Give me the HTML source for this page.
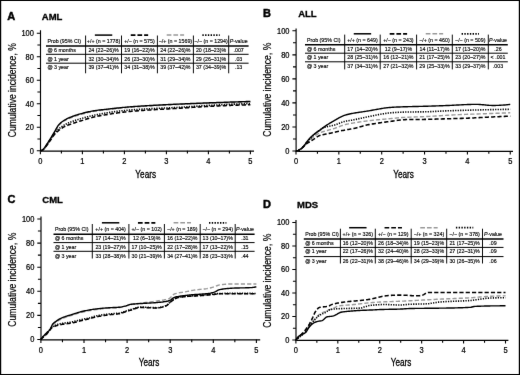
<!DOCTYPE html>
<html><head><meta charset="utf-8"><style>
html,body{margin:0;padding:0;background:#fff;}
svg{display:block;}
text{font-family:"Liberation Sans", sans-serif;}
.tb{font-size:5.3px;fill:#000;stroke:#000;stroke-width:0.14px;}
.tk{font-size:7.8px;fill:#000;stroke:#000;stroke-width:0.22px;}
.yl{font-size:10.3px;fill:#000;stroke:#000;stroke-width:0.2px;}
.yr{font-size:10.4px;fill:#000;stroke:#000;stroke-width:0.3px;}
</style></head><body>
<svg width="520" height="375" viewBox="0 0 520 375" fill="#111">
<defs><filter id="bl" x="0" y="0" width="1" height="1" filterUnits="objectBoundingBox" color-interpolation-filters="sRGB"><feConvolveMatrix order="3" kernelMatrix="0.00276 0.04704 0.00276 0.04704 0.80077 0.04704 0.00276 0.04704 0.00276" edgeMode="duplicate" preserveAlpha="true"/></filter></defs>
<g filter="url(#bl)">
<rect x="0" y="0" width="520" height="375" fill="#fff"/>
<text x="7.2" y="19.9" font-size="11" font-weight="bold" fill="#000" stroke="#000" stroke-width="0.45">A</text>
<text x="41.8" y="20.1" font-size="9.5" font-weight="bold" fill="#000" stroke="#000" stroke-width="0.3">AML</text>
<path d="M40.5 30.2 V151.1 H254" fill="none" stroke="#000" stroke-width="1.15"/>
<path d="M36.8 150.8 h3.6 M37.4 139.05 h3 M36.8 127.3 h3.6 M37.4 115.55 h3 M36.8 103.8 h3.6 M37.4 92.05 h3 M36.8 80.3 h3.6 M37.4 68.55 h3 M36.8 56.8 h3.6 M37.4 45.05 h3 M36.8 33.3 h3.6 M40.4 150.8 v3.4 M61.4 150.8 v2.8 M82.4 150.8 v3.4 M103.4 150.8 v2.8 M124.4 150.8 v3.4 M145.4 150.8 v2.8 M166.4 150.8 v3.4 M187.4 150.8 v2.8 M208.4 150.8 v3.4 M229.4 150.8 v2.8 M250.4 150.8 v3.4" stroke="#000" stroke-width="1.1"/>
<text transform="translate(33.9 153.7) scale(0.96 1.13)" class="tk" text-anchor="end">0</text>
<text transform="translate(33.9 130.2) scale(0.96 1.13)" class="tk" text-anchor="end">20</text>
<text transform="translate(33.9 106.7) scale(0.96 1.13)" class="tk" text-anchor="end">40</text>
<text transform="translate(33.9 83.2) scale(0.96 1.13)" class="tk" text-anchor="end">60</text>
<text transform="translate(33.9 59.7) scale(0.96 1.13)" class="tk" text-anchor="end">80</text>
<text transform="translate(33.9 36.2) scale(0.96 1.13)" class="tk" text-anchor="end">100</text>
<text transform="translate(40.4 164.1) scale(0.96 1.13)" class="tk" text-anchor="middle">0</text>
<text transform="translate(82.4 164.1) scale(0.96 1.13)" class="tk" text-anchor="middle">1</text>
<text transform="translate(124.4 164.1) scale(0.96 1.13)" class="tk" text-anchor="middle">2</text>
<text transform="translate(166.4 164.1) scale(0.96 1.13)" class="tk" text-anchor="middle">3</text>
<text transform="translate(208.4 164.1) scale(0.96 1.13)" class="tk" text-anchor="middle">4</text>
<text transform="translate(250.4 164.1) scale(0.96 1.13)" class="tk" text-anchor="middle">5</text>
<text transform="translate(15.9 90.2) rotate(-90) scale(0.835 1)" class="yl" text-anchor="middle">Cumulative incidence, %</text>
<text class="yr" text-anchor="middle" transform="translate(145.7 177.8) scale(0.79 1)">Years</text>
<path d="M40.4 150.8 L41.45 150.44 L42.5 149.86 L43.55 148.97 L44.6 147.7 L45.65 146.21 L46.7 144.63 L47.75 143.1 L48.8 141.54 L49.85 139.91 L50.9 138.22 L51.95 136.52 L53 134.82 L54.05 133.13 L55.1 131.41 L56.15 129.57 L57.2 127.67 L58.25 125.98 L59.3 124.74 L60.35 123.72 L61.4 122.83 L62.45 122.04 L63.5 121.35 L64.55 120.72 L65.6 120.13 L66.65 119.59 L67.7 119.09 L68.75 118.61 L69.8 118.17 L70.85 117.75 L71.9 117.34 L72.95 116.95 L74 116.57 L75.05 116.21 L76.1 115.86 L77.15 115.52 L78.2 115.2 L79.25 114.88 L80.3 114.58 L81.35 114.29 L82.4 114.01 L83.45 113.74 L84.5 113.47 L85.55 113.21 L86.6 112.94 L87.65 112.69 L88.7 112.44 L89.75 112.2 L90.8 111.98 L91.85 111.76 L92.9 111.56 L93.95 111.37 L95 111.2 L96.05 111.05 L97.1 110.9 L98.15 110.77 L99.2 110.64 L100.25 110.52 L101.3 110.4 L102.35 110.29 L103.4 110.18 L104.45 110.07 L105.5 109.95 L106.55 109.84 L107.6 109.72 L108.65 109.6 L109.7 109.48 L110.75 109.35 L111.8 109.22 L112.85 109.09 L113.9 108.96 L114.95 108.83 L116 108.71 L117.05 108.58 L118.1 108.46 L119.15 108.34 L120.2 108.22 L121.25 108.1 L122.3 108 L123.35 107.89 L124.4 107.8 L125.45 107.7 L126.5 107.61 L127.55 107.52 L128.6 107.44 L129.65 107.35 L130.7 107.27 L131.75 107.19 L132.8 107.11 L133.85 107.04 L134.9 106.96 L135.95 106.89 L137 106.82 L138.05 106.75 L139.1 106.68 L140.15 106.61 L141.2 106.54 L142.25 106.47 L143.3 106.4 L144.35 106.33 L145.4 106.27 L146.45 106.2 L147.5 106.13 L148.55 106.07 L149.6 106 L150.65 105.94 L151.7 105.87 L152.75 105.81 L153.8 105.74 L154.85 105.68 L155.9 105.62 L156.95 105.55 L158 105.49 L159.05 105.43 L160.1 105.37 L161.15 105.31 L162.2 105.25 L163.25 105.19 L164.3 105.14 L165.35 105.08 L166.4 105.02 L167.45 104.97 L168.5 104.92 L169.55 104.87 L170.6 104.81 L171.65 104.76 L172.7 104.72 L173.75 104.67 L174.8 104.62 L175.85 104.58 L176.9 104.53 L177.95 104.49 L179 104.45 L180.05 104.41 L181.1 104.36 L182.15 104.32 L183.2 104.28 L184.25 104.24 L185.3 104.21 L186.35 104.17 L187.4 104.13 L188.45 104.09 L189.5 104.06 L190.55 104.02 L191.6 103.98 L192.65 103.95 L193.7 103.91 L194.75 103.88 L195.8 103.85 L196.85 103.81 L197.9 103.78 L198.95 103.74 L200 103.71 L201.05 103.68 L202.1 103.64 L203.15 103.61 L204.2 103.58 L205.25 103.55 L206.3 103.51 L207.35 103.48 L208.4 103.45 L209.45 103.41 L210.5 103.38 L211.55 103.35 L212.6 103.32 L213.65 103.29 L214.7 103.25 L215.75 103.22 L216.8 103.19 L217.85 103.16 L218.9 103.13 L219.95 103.1 L221 103.06 L222.05 103.03 L223.1 103 L224.15 102.97 L225.2 102.94 L226.25 102.91 L227.3 102.88 L228.35 102.85 L229.4 102.82 L230.45 102.79 L231.5 102.76 L232.55 102.73 L233.6 102.71 L234.65 102.68 L235.7 102.65 L236.75 102.62 L237.8 102.59 L238.85 102.56 L239.9 102.54 L240.95 102.51 L242 102.48 L243.05 102.46 L244.1 102.43 L245.15 102.4 L246.2 102.38 L247.25 102.35 L248.3 102.32 L249.35 102.3 L250.4 102.27" fill="none" stroke="#999" stroke-width="1.4" stroke-dasharray="4.2 2.1" stroke-linejoin="round"/>
<path d="M40.4 150.8 L41.45 150.56 L42.5 150.09 L43.55 149.32 L44.6 148.13 L45.65 146.69 L46.7 145.16 L47.75 143.7 L48.8 142.16 L49.85 140.49 L50.9 138.74 L51.95 137.01 L53 135.36 L54.05 133.86 L55.1 132.59 L56.15 131.48 L57.2 130.44 L58.25 129.46 L59.3 128.53 L60.35 127.67 L61.4 126.87 L62.45 126.13 L63.5 125.45 L64.55 124.83 L65.6 124.27 L66.65 123.74 L67.7 123.26 L68.75 122.8 L69.8 122.37 L70.85 121.96 L71.9 121.56 L72.95 121.18 L74 120.81 L75.05 120.45 L76.1 120.1 L77.15 119.77 L78.2 119.45 L79.25 119.14 L80.3 118.84 L81.35 118.54 L82.4 118.25 L83.45 117.96 L84.5 117.67 L85.55 117.39 L86.6 117.11 L87.65 116.84 L88.7 116.57 L89.75 116.3 L90.8 116.05 L91.85 115.79 L92.9 115.55 L93.95 115.31 L95 115.08 L96.05 114.85 L97.1 114.63 L98.15 114.41 L99.2 114.2 L100.25 113.99 L101.3 113.79 L102.35 113.59 L103.4 113.39 L104.45 113.2 L105.5 113.02 L106.55 112.85 L107.6 112.68 L108.65 112.52 L109.7 112.36 L110.75 112.2 L111.8 112.04 L112.85 111.89 L113.9 111.74 L114.95 111.6 L116 111.46 L117.05 111.32 L118.1 111.19 L119.15 111.06 L120.2 110.94 L121.25 110.82 L122.3 110.71 L123.35 110.6 L124.4 110.5 L125.45 110.4 L126.5 110.31 L127.55 110.21 L128.6 110.13 L129.65 110.04 L130.7 109.96 L131.75 109.87 L132.8 109.79 L133.85 109.72 L134.9 109.64 L135.95 109.57 L137 109.5 L138.05 109.43 L139.1 109.36 L140.15 109.29 L141.2 109.23 L142.25 109.16 L143.3 109.1 L144.35 109.03 L145.4 108.97 L146.45 108.91 L147.5 108.85 L148.55 108.79 L149.6 108.73 L150.65 108.68 L151.7 108.62 L152.75 108.57 L153.8 108.52 L154.85 108.47 L155.9 108.42 L156.95 108.37 L158 108.32 L159.05 108.27 L160.1 108.23 L161.15 108.18 L162.2 108.13 L163.25 108.08 L164.3 108.04 L165.35 107.99 L166.4 107.94 L167.45 107.9 L168.5 107.85 L169.55 107.8 L170.6 107.75 L171.65 107.7 L172.7 107.65 L173.75 107.6 L174.8 107.55 L175.85 107.49 L176.9 107.44 L177.95 107.38 L179 107.33 L180.05 107.27 L181.1 107.2 L182.15 107.14 L183.2 107.08 L184.25 107.01 L185.3 106.94 L186.35 106.87 L187.4 106.81 L188.45 106.73 L189.5 106.66 L190.55 106.59 L191.6 106.52 L192.65 106.45 L193.7 106.38 L194.75 106.3 L195.8 106.23 L196.85 106.16 L197.9 106.09 L198.95 106.02 L200 105.95 L201.05 105.88 L202.1 105.81 L203.15 105.75 L204.2 105.68 L205.25 105.62 L206.3 105.56 L207.35 105.5 L208.4 105.45 L209.45 105.39 L210.5 105.33 L211.55 105.28 L212.6 105.22 L213.65 105.17 L214.7 105.12 L215.75 105.06 L216.8 105.01 L217.85 104.96 L218.9 104.9 L219.95 104.85 L221 104.8 L222.05 104.75 L223.1 104.7 L224.15 104.65 L225.2 104.6 L226.25 104.55 L227.3 104.5 L228.35 104.45 L229.4 104.4 L230.45 104.35 L231.5 104.31 L232.55 104.26 L233.6 104.21 L234.65 104.17 L235.7 104.12 L236.75 104.08 L237.8 104.04 L238.85 103.99 L239.9 103.95 L240.95 103.91 L242 103.87 L243.05 103.83 L244.1 103.79 L245.15 103.75 L246.2 103.71 L247.25 103.67 L248.3 103.64 L249.35 103.6 L250.4 103.56" fill="none" stroke="#000" stroke-width="1.6" stroke-dasharray="1.25 1.25" stroke-linejoin="round"/>
<path d="M40.4 150.8 L41.45 150.55 L42.5 150.09 L43.55 149.35 L44.6 148.22 L45.65 146.87 L46.7 145.44 L47.75 144.07 L48.8 142.64 L49.85 141.08 L50.9 139.46 L51.95 137.85 L53 136.32 L54.05 134.94 L55.1 133.76 L56.15 132.74 L57.2 131.77 L58.25 130.86 L59.3 130 L60.35 129.2 L61.4 128.46 L62.45 127.78 L63.5 127.16 L64.55 126.61 L65.6 126.11 L66.65 125.65 L67.7 125.23 L68.75 124.84 L69.8 124.47 L70.85 124.11 L71.9 123.76 L72.95 123.4 L74 123.04 L75.05 122.69 L76.1 122.34 L77.15 122 L78.2 121.67 L79.25 121.34 L80.3 121.02 L81.35 120.7 L82.4 120.38 L83.45 120.06 L84.5 119.73 L85.55 119.4 L86.6 119.08 L87.65 118.75 L88.7 118.43 L89.75 118.11 L90.8 117.81 L91.85 117.51 L92.9 117.23 L93.95 116.97 L95 116.73 L96.05 116.5 L97.1 116.28 L98.15 116.07 L99.2 115.87 L100.25 115.67 L101.3 115.49 L102.35 115.3 L103.4 115.13 L104.45 114.95 L105.5 114.78 L106.55 114.61 L107.6 114.44 L108.65 114.27 L109.7 114.11 L110.75 113.94 L111.8 113.77 L112.85 113.6 L113.9 113.44 L114.95 113.28 L116 113.12 L117.05 112.97 L118.1 112.82 L119.15 112.67 L120.2 112.53 L121.25 112.39 L122.3 112.26 L123.35 112.14 L124.4 112.03 L125.45 111.91 L126.5 111.81 L127.55 111.7 L128.6 111.6 L129.65 111.5 L130.7 111.41 L131.75 111.31 L132.8 111.22 L133.85 111.13 L134.9 111.05 L135.95 110.96 L137 110.88 L138.05 110.8 L139.1 110.72 L140.15 110.64 L141.2 110.56 L142.25 110.49 L143.3 110.41 L144.35 110.34 L145.4 110.26 L146.45 110.19 L147.5 110.12 L148.55 110.05 L149.6 109.98 L150.65 109.91 L151.7 109.84 L152.75 109.78 L153.8 109.71 L154.85 109.65 L155.9 109.59 L156.95 109.53 L158 109.47 L159.05 109.41 L160.1 109.35 L161.15 109.29 L162.2 109.23 L163.25 109.17 L164.3 109.11 L165.35 109.05 L166.4 108.99 L167.45 108.93 L168.5 108.88 L169.55 108.82 L170.6 108.76 L171.65 108.7 L172.7 108.64 L173.75 108.58 L174.8 108.52 L175.85 108.46 L176.9 108.39 L177.95 108.33 L179 108.27 L180.05 108.2 L181.1 108.13 L182.15 108.06 L183.2 108 L184.25 107.93 L185.3 107.86 L186.35 107.78 L187.4 107.71 L188.45 107.64 L189.5 107.57 L190.55 107.5 L191.6 107.42 L192.65 107.35 L193.7 107.28 L194.75 107.21 L195.8 107.14 L196.85 107.07 L197.9 107 L198.95 106.93 L200 106.86 L201.05 106.8 L202.1 106.73 L203.15 106.67 L204.2 106.61 L205.25 106.55 L206.3 106.49 L207.35 106.44 L208.4 106.39 L209.45 106.33 L210.5 106.28 L211.55 106.23 L212.6 106.18 L213.65 106.13 L214.7 106.08 L215.75 106.03 L216.8 105.98 L217.85 105.93 L218.9 105.89 L219.95 105.84 L221 105.79 L222.05 105.74 L223.1 105.7 L224.15 105.65 L225.2 105.61 L226.25 105.56 L227.3 105.52 L228.35 105.48 L229.4 105.43 L230.45 105.39 L231.5 105.35 L232.55 105.31 L233.6 105.27 L234.65 105.23 L235.7 105.19 L236.75 105.15 L237.8 105.12 L238.85 105.08 L239.9 105.05 L240.95 105.01 L242 104.98 L243.05 104.94 L244.1 104.91 L245.15 104.88 L246.2 104.85 L247.25 104.82 L248.3 104.79 L249.35 104.77 L250.4 104.74" fill="none" stroke="#000" stroke-width="1.55" stroke-dasharray="4.2 2.1" stroke-linejoin="round"/>
<path d="M40.4 150.8 L41.45 150.45 L42.5 149.86 L43.55 148.95 L44.6 147.64 L45.65 146.08 L46.7 144.43 L47.75 142.85 L48.8 141.25 L49.85 139.58 L50.9 137.85 L51.95 136.1 L53 134.35 L54.05 132.59 L55.1 130.82 L56.15 128.97 L57.2 127.07 L58.25 125.39 L59.3 124.15 L60.35 123.13 L61.4 122.25 L62.45 121.46 L63.5 120.77 L64.55 120.13 L65.6 119.53 L66.65 118.97 L67.7 118.45 L68.75 117.96 L69.8 117.5 L70.85 117.07 L71.9 116.65 L72.95 116.25 L74 115.87 L75.05 115.5 L76.1 115.14 L77.15 114.8 L78.2 114.48 L79.25 114.17 L80.3 113.87 L81.35 113.58 L82.4 113.31 L83.45 113.04 L84.5 112.78 L85.55 112.53 L86.6 112.28 L87.65 112.03 L88.7 111.8 L89.75 111.57 L90.8 111.36 L91.85 111.15 L92.9 110.96 L93.95 110.78 L95 110.62 L96.05 110.46 L97.1 110.32 L98.15 110.18 L99.2 110.05 L100.25 109.93 L101.3 109.81 L102.35 109.7 L103.4 109.58 L104.45 109.47 L105.5 109.36 L106.55 109.25 L107.6 109.13 L108.65 109.02 L109.7 108.9 L110.75 108.78 L111.8 108.66 L112.85 108.54 L113.9 108.42 L114.95 108.3 L116 108.18 L117.05 108.06 L118.1 107.95 L119.15 107.84 L120.2 107.73 L121.25 107.62 L122.3 107.52 L123.35 107.42 L124.4 107.33 L125.45 107.23 L126.5 107.14 L127.55 107.06 L128.6 106.97 L129.65 106.89 L130.7 106.81 L131.75 106.73 L132.8 106.65 L133.85 106.57 L134.9 106.49 L135.95 106.42 L137 106.34 L138.05 106.27 L139.1 106.2 L140.15 106.13 L141.2 106.06 L142.25 105.99 L143.3 105.93 L144.35 105.86 L145.4 105.8 L146.45 105.73 L147.5 105.67 L148.55 105.61 L149.6 105.55 L150.65 105.49 L151.7 105.43 L152.75 105.37 L153.8 105.31 L154.85 105.26 L155.9 105.2 L156.95 105.14 L158 105.09 L159.05 105.03 L160.1 104.98 L161.15 104.93 L162.2 104.87 L163.25 104.82 L164.3 104.77 L165.35 104.72 L166.4 104.67 L167.45 104.62 L168.5 104.57 L169.55 104.52 L170.6 104.47 L171.65 104.42 L172.7 104.37 L173.75 104.32 L174.8 104.27 L175.85 104.22 L176.9 104.17 L177.95 104.12 L179 104.08 L180.05 104.03 L181.1 103.98 L182.15 103.94 L183.2 103.89 L184.25 103.84 L185.3 103.8 L186.35 103.75 L187.4 103.71 L188.45 103.66 L189.5 103.62 L190.55 103.57 L191.6 103.53 L192.65 103.48 L193.7 103.44 L194.75 103.4 L195.8 103.35 L196.85 103.31 L197.9 103.27 L198.95 103.23 L200 103.18 L201.05 103.14 L202.1 103.1 L203.15 103.06 L204.2 103.02 L205.25 102.98 L206.3 102.94 L207.35 102.9 L208.4 102.86 L209.45 102.82 L210.5 102.78 L211.55 102.74 L212.6 102.7 L213.65 102.67 L214.7 102.63 L215.75 102.59 L216.8 102.55 L217.85 102.51 L218.9 102.48 L219.95 102.44 L221 102.4 L222.05 102.36 L223.1 102.33 L224.15 102.29 L225.2 102.25 L226.25 102.22 L227.3 102.18 L228.35 102.15 L229.4 102.11 L230.45 102.07 L231.5 102.04 L232.55 102 L233.6 101.97 L234.65 101.94 L235.7 101.9 L236.75 101.87 L237.8 101.83 L238.85 101.8 L239.9 101.77 L240.95 101.73 L242 101.7 L243.05 101.67 L244.1 101.64 L245.15 101.61 L246.2 101.57 L247.25 101.54 L248.3 101.51 L249.35 101.48 L250.4 101.45" fill="none" stroke="#000" stroke-width="1.4" stroke-linejoin="round"/>
<path d="M46 46 H248.6" stroke="#000" stroke-width="1.5"/>
<path d="M46 54.3 H248.6 M46 63.2 H248.6" stroke="#000" stroke-width="1.0"/>
<path d="M85.6 35.5 V73.3 M121.5 35.5 V73.3 M157.4 35.5 V73.3 M193.4 35.5 V73.3 M228.7 35.5 V73.3" stroke="#000" stroke-width="0.95"/>
<path d="M94.85 35.1 h17.4" stroke="#000" stroke-width="1.5"/>
<path d="M130.75 35.1 h17.4" stroke="#000" stroke-width="1.6500000000000001" stroke-dasharray="4.7 2.0"/>
<path d="M166.7 35.1 h17.4" stroke="#999" stroke-width="1.5" stroke-dasharray="4.7 2.0"/>
<path d="M202.35 35.1 h17.4" stroke="#000" stroke-width="1.7000000000000002" stroke-dasharray="1.4 1.35"/>
<text x="47.4" y="43.4" class="tb">Prob (95% CI)</text>
<text x="103.55" y="43.4" class="tb" text-anchor="middle">+/+ (n = 1778)</text>
<text x="139.45" y="43.4" class="tb" text-anchor="middle">+/− (n = 575)</text>
<text x="175.4" y="43.4" class="tb" text-anchor="middle">−/+ (n = 1569)</text>
<text x="211.05" y="43.4" class="tb" text-anchor="middle">−/− (n = 1294)</text>
<text x="238.65" y="43.4" class="tb" text-anchor="middle"><tspan font-style="italic">P</tspan>-value</text>
<text x="47.4" y="52" class="tb"><tspan font-weight="bold">@</tspan> 6 months</text>
<text x="103.55" y="52" class="tb" text-anchor="middle">24 (22–26)%</text>
<text x="139.45" y="52" class="tb" text-anchor="middle">19 (16–22)%</text>
<text x="175.4" y="52" class="tb" text-anchor="middle">24 (22–26)%</text>
<text x="211.05" y="52" class="tb" text-anchor="middle">20 (18–23)%</text>
<text x="238.65" y="52" class="tb" text-anchor="middle">.007</text>
<text x="47.4" y="60.6" class="tb"><tspan font-weight="bold">@</tspan> 1 year</text>
<text x="103.55" y="60.6" class="tb" text-anchor="middle">32 (30–34)%</text>
<text x="139.45" y="60.6" class="tb" text-anchor="middle">26 (23–30)%</text>
<text x="175.4" y="60.6" class="tb" text-anchor="middle">31 (29–34)%</text>
<text x="211.05" y="60.6" class="tb" text-anchor="middle">29 (26–31)%</text>
<text x="238.65" y="60.6" class="tb" text-anchor="middle">.03</text>
<text x="47.4" y="69.3" class="tb"><tspan font-weight="bold">@</tspan> 3 year</text>
<text x="103.55" y="69.3" class="tb" text-anchor="middle">39 (37–41)%</text>
<text x="139.45" y="69.3" class="tb" text-anchor="middle">34 (31–38)%</text>
<text x="175.4" y="69.3" class="tb" text-anchor="middle">39 (37–42)%</text>
<text x="211.05" y="69.3" class="tb" text-anchor="middle">37 (34–39)%</text>
<text x="238.65" y="69.3" class="tb" text-anchor="middle">.13</text>
<text x="263" y="17.1" font-size="11" font-weight="bold" fill="#000" stroke="#000" stroke-width="0.45">B</text>
<text x="298.2" y="17.2" font-size="9.5" font-weight="bold" fill="#000" stroke="#000" stroke-width="0.3">ALL</text>
<path d="M296.1 28.5 V151.3 H513" fill="none" stroke="#000" stroke-width="1.15"/>
<path d="M292.4 151 h3.6 M293 138.98 h3 M292.4 126.96 h3.6 M293 114.94 h3 M292.4 102.92 h3.6 M293 90.9 h3 M292.4 78.88 h3.6 M293 66.86 h3 M292.4 54.84 h3.6 M293 42.82 h3 M292.4 30.8 h3.6 M296 151 v3.4 M317.43 151 v2.8 M338.85 151 v3.4 M360.27 151 v2.8 M381.7 151 v3.4 M403.12 151 v2.8 M424.55 151 v3.4 M445.98 151 v2.8 M467.4 151 v3.4 M488.83 151 v2.8 M510.25 151 v3.4" stroke="#000" stroke-width="1.1"/>
<text transform="translate(289.5 153.9) scale(0.96 1.13)" class="tk" text-anchor="end">0</text>
<text transform="translate(289.5 129.86) scale(0.96 1.13)" class="tk" text-anchor="end">20</text>
<text transform="translate(289.5 105.82) scale(0.96 1.13)" class="tk" text-anchor="end">40</text>
<text transform="translate(289.5 81.78) scale(0.96 1.13)" class="tk" text-anchor="end">60</text>
<text transform="translate(289.5 57.74) scale(0.96 1.13)" class="tk" text-anchor="end">80</text>
<text transform="translate(289.5 33.7) scale(0.96 1.13)" class="tk" text-anchor="end">100</text>
<text transform="translate(296 164.3) scale(0.96 1.13)" class="tk" text-anchor="middle">0</text>
<text transform="translate(338.85 164.3) scale(0.96 1.13)" class="tk" text-anchor="middle">1</text>
<text transform="translate(381.7 164.3) scale(0.96 1.13)" class="tk" text-anchor="middle">2</text>
<text transform="translate(424.55 164.3) scale(0.96 1.13)" class="tk" text-anchor="middle">3</text>
<text transform="translate(467.4 164.3) scale(0.96 1.13)" class="tk" text-anchor="middle">4</text>
<text transform="translate(510.25 164.3) scale(0.96 1.13)" class="tk" text-anchor="middle">5</text>
<text transform="translate(271.2 89.7) rotate(-90) scale(0.835 1)" class="yl" text-anchor="middle">Cumulative incidence, %</text>
<text class="yr" text-anchor="middle" transform="translate(403.5 177.8) scale(0.79 1)">Years</text>
<path d="M296 151 L297.07 150.8 L298.14 150.46 L299.21 150.01 L300.29 149.47 L301.36 148.66 L302.43 147.65 L303.5 146.51 L304.57 145.32 L305.64 144.18 L306.71 143.14 L307.78 142.1 L308.86 141.05 L309.93 140.01 L311 139 L312.07 138.05 L313.14 137.18 L314.21 136.36 L315.28 135.56 L316.35 134.81 L317.43 134.11 L318.5 133.49 L319.57 132.97 L320.64 132.52 L321.71 132.12 L322.78 131.75 L323.85 131.4 L324.92 131.08 L326 130.78 L327.07 130.49 L328.14 130.21 L329.21 129.93 L330.28 129.65 L331.35 129.36 L332.42 129.06 L333.49 128.73 L334.56 128.38 L335.64 128 L336.71 127.6 L337.78 127.18 L338.85 126.76 L339.92 126.34 L340.99 125.93 L342.06 125.54 L343.13 125.17 L344.21 124.84 L345.28 124.56 L346.35 124.3 L347.42 124.07 L348.49 123.86 L349.56 123.66 L350.63 123.47 L351.7 123.28 L352.78 123.1 L353.85 122.92 L354.92 122.74 L355.99 122.56 L357.06 122.39 L358.13 122.22 L359.2 122.05 L360.27 121.89 L361.35 121.73 L362.42 121.57 L363.49 121.42 L364.56 121.27 L365.63 121.13 L366.7 120.99 L367.77 120.86 L368.85 120.73 L369.92 120.6 L370.99 120.48 L372.06 120.36 L373.13 120.25 L374.2 120.14 L375.27 120.03 L376.34 119.92 L377.42 119.81 L378.49 119.71 L379.56 119.61 L380.63 119.51 L381.7 119.41 L382.77 119.31 L383.84 119.21 L384.91 119.11 L385.99 119.01 L387.06 118.92 L388.13 118.82 L389.2 118.72 L390.27 118.62 L391.34 118.53 L392.41 118.42 L393.48 118.32 L394.56 118.21 L395.63 118.11 L396.7 118 L397.77 117.9 L398.84 117.8 L399.91 117.7 L400.98 117.61 L402.05 117.52 L403.12 117.45 L404.2 117.38 L405.27 117.32 L406.34 117.27 L407.41 117.22 L408.48 117.18 L409.55 117.13 L410.62 117.09 L411.69 117.06 L412.77 117.02 L413.84 116.99 L414.91 116.96 L415.98 116.92 L417.05 116.89 L418.12 116.86 L419.19 116.82 L420.26 116.79 L421.34 116.75 L422.41 116.71 L423.48 116.67 L424.55 116.62 L425.62 116.57 L426.69 116.52 L427.76 116.47 L428.84 116.41 L429.91 116.35 L430.98 116.29 L432.05 116.23 L433.12 116.17 L434.19 116.1 L435.26 116.03 L436.33 115.97 L437.41 115.9 L438.48 115.83 L439.55 115.76 L440.62 115.69 L441.69 115.62 L442.76 115.55 L443.83 115.48 L444.9 115.41 L445.98 115.34 L447.05 115.27 L448.12 115.21 L449.19 115.14 L450.26 115.08 L451.33 115.02 L452.4 114.96 L453.47 114.9 L454.55 114.84 L455.62 114.79 L456.69 114.74 L457.76 114.69 L458.83 114.64 L459.9 114.6 L460.97 114.56 L462.04 114.51 L463.12 114.47 L464.19 114.43 L465.26 114.39 L466.33 114.36 L467.4 114.32 L468.47 114.28 L469.54 114.24 L470.61 114.21 L471.69 114.17 L472.76 114.14 L473.83 114.1 L474.9 114.07 L475.97 114.03 L477.04 114 L478.11 113.96 L479.18 113.92 L480.25 113.89 L481.33 113.85 L482.4 113.81 L483.47 113.78 L484.54 113.74 L485.61 113.7 L486.68 113.66 L487.75 113.62 L488.83 113.58 L489.9 113.54 L490.97 113.5 L492.04 113.46 L493.11 113.42 L494.18 113.38 L495.25 113.34 L496.32 113.3 L497.39 113.26 L498.47 113.22 L499.54 113.18 L500.61 113.14 L501.68 113.1 L502.75 113.06 L503.82 113.02 L504.89 112.98 L505.97 112.94 L507.04 112.9 L508.11 112.86 L509.18 112.82 L510.25 112.78" fill="none" stroke="#999" stroke-width="1.4" stroke-dasharray="4.2 2.1" stroke-linejoin="round"/>
<path d="M296 151 L297.07 150.81 L298.14 150.47 L299.21 150.02 L300.29 149.46 L301.36 148.63 L302.43 147.57 L303.5 146.37 L304.57 145.11 L305.64 143.88 L306.71 142.74 L307.78 141.57 L308.86 140.36 L309.93 139.13 L311 137.9 L312.07 136.7 L313.14 135.57 L314.21 134.51 L315.28 133.57 L316.35 132.69 L317.43 131.83 L318.5 130.99 L319.57 130.2 L320.64 129.46 L321.71 128.79 L322.78 128.21 L323.85 127.72 L324.92 127.34 L326 127.02 L327.07 126.74 L328.14 126.49 L329.21 126.27 L330.28 126.05 L331.35 125.83 L332.42 125.59 L333.49 125.33 L334.56 125.03 L335.64 124.69 L336.71 124.31 L337.78 123.91 L338.85 123.49 L339.92 123.07 L340.99 122.66 L342.06 122.27 L343.13 121.91 L344.21 121.59 L345.28 121.31 L346.35 121.08 L347.42 120.88 L348.49 120.69 L349.56 120.52 L350.63 120.35 L351.7 120.17 L352.78 119.99 L353.85 119.78 L354.92 119.57 L355.99 119.35 L357.06 119.12 L358.13 118.88 L359.2 118.64 L360.27 118.4 L361.35 118.16 L362.42 117.92 L363.49 117.68 L364.56 117.45 L365.63 117.22 L366.7 117 L367.77 116.78 L368.85 116.58 L369.92 116.36 L370.99 116.15 L372.06 115.93 L373.13 115.71 L374.2 115.49 L375.27 115.27 L376.34 115.06 L377.42 114.84 L378.49 114.63 L379.56 114.43 L380.63 114.23 L381.7 114.03 L382.77 113.85 L383.84 113.67 L384.91 113.5 L385.99 113.35 L387.06 113.2 L388.13 113.07 L389.2 112.95 L390.27 112.85 L391.34 112.76 L392.41 112.68 L393.48 112.6 L394.56 112.53 L395.63 112.46 L396.7 112.39 L397.77 112.33 L398.84 112.27 L399.91 112.22 L400.98 112.18 L402.05 112.13 L403.12 112.1 L404.2 112.07 L405.27 112.05 L406.34 112.03 L407.41 112.01 L408.48 111.99 L409.55 111.98 L410.62 111.97 L411.69 111.96 L412.77 111.95 L413.84 111.94 L414.91 111.93 L415.98 111.92 L417.05 111.91 L418.12 111.9 L419.19 111.89 L420.26 111.88 L421.34 111.87 L422.41 111.85 L423.48 111.83 L424.55 111.81 L425.62 111.79 L426.69 111.76 L427.76 111.73 L428.84 111.69 L429.91 111.65 L430.98 111.6 L432.05 111.55 L433.12 111.5 L434.19 111.44 L435.26 111.39 L436.33 111.33 L437.41 111.28 L438.48 111.22 L439.55 111.16 L440.62 111.11 L441.69 111.05 L442.76 111 L443.83 110.96 L444.9 110.91 L445.98 110.87 L447.05 110.83 L448.12 110.79 L449.19 110.76 L450.26 110.72 L451.33 110.69 L452.4 110.65 L453.47 110.62 L454.55 110.58 L455.62 110.55 L456.69 110.52 L457.76 110.48 L458.83 110.45 L459.9 110.42 L460.97 110.39 L462.04 110.36 L463.12 110.33 L464.19 110.3 L465.26 110.27 L466.33 110.24 L467.4 110.21 L468.47 110.18 L469.54 110.16 L470.61 110.13 L471.69 110.1 L472.76 110.07 L473.83 110.05 L474.9 110.02 L475.97 109.99 L477.04 109.97 L478.11 109.94 L479.18 109.92 L480.25 109.89 L481.33 109.87 L482.4 109.84 L483.47 109.82 L484.54 109.79 L485.61 109.77 L486.68 109.75 L487.75 109.72 L488.83 109.7 L489.9 109.68 L490.97 109.65 L492.04 109.63 L493.11 109.61 L494.18 109.59 L495.25 109.56 L496.32 109.54 L497.39 109.52 L498.47 109.5 L499.54 109.48 L500.61 109.46 L501.68 109.44 L502.75 109.42 L503.82 109.4 L504.89 109.38 L505.97 109.36 L507.04 109.34 L508.11 109.33 L509.18 109.31 L510.25 109.29" fill="none" stroke="#000" stroke-width="1.6" stroke-dasharray="1.25 1.25" stroke-linejoin="round"/>
<path d="M296 151 L297.07 150.79 L298.14 150.44 L299.21 150.01 L300.29 149.47 L301.36 148.69 L302.43 147.71 L303.5 146.63 L304.57 145.54 L305.64 144.55 L306.71 143.71 L307.78 142.96 L308.86 142.25 L309.93 141.57 L311 140.91 L312.07 140.25 L313.14 139.58 L314.21 138.87 L315.28 138.12 L316.35 137.37 L317.43 136.67 L318.5 136.07 L319.57 135.61 L320.64 135.27 L321.71 134.96 L322.78 134.69 L323.85 134.45 L324.92 134.23 L326 134.02 L327.07 133.82 L328.14 133.6 L329.21 133.38 L330.28 133.14 L331.35 132.9 L332.42 132.67 L333.49 132.43 L334.56 132.2 L335.64 131.97 L336.71 131.74 L337.78 131.51 L338.85 131.29 L339.92 131.06 L340.99 130.83 L342.06 130.61 L343.13 130.39 L344.21 130.17 L345.28 129.97 L346.35 129.77 L347.42 129.58 L348.49 129.4 L349.56 129.22 L350.63 129.04 L351.7 128.85 L352.78 128.65 L353.85 128.43 L354.92 128.19 L355.99 127.93 L357.06 127.65 L358.13 127.36 L359.2 127.06 L360.27 126.76 L361.35 126.45 L362.42 126.15 L363.49 125.86 L364.56 125.58 L365.63 125.31 L366.7 125.06 L367.77 124.84 L368.85 124.63 L369.92 124.43 L370.99 124.24 L372.06 124.06 L373.13 123.87 L374.2 123.7 L375.27 123.53 L376.34 123.36 L377.42 123.2 L378.49 123.04 L379.56 122.88 L380.63 122.73 L381.7 122.58 L382.77 122.43 L383.84 122.28 L384.91 122.14 L385.99 122 L387.06 121.85 L388.13 121.71 L389.2 121.57 L390.27 121.43 L391.34 121.28 L392.41 121.13 L393.48 120.97 L394.56 120.8 L395.63 120.64 L396.7 120.47 L397.77 120.31 L398.84 120.16 L399.91 120.02 L400.98 119.89 L402.05 119.79 L403.12 119.71 L404.2 119.65 L405.27 119.62 L406.34 119.6 L407.41 119.58 L408.48 119.56 L409.55 119.54 L410.62 119.53 L411.69 119.52 L412.77 119.51 L413.84 119.5 L414.91 119.49 L415.98 119.48 L417.05 119.47 L418.12 119.46 L419.19 119.45 L420.26 119.44 L421.34 119.43 L422.41 119.42 L423.48 119.4 L424.55 119.39 L425.62 119.37 L426.69 119.35 L427.76 119.32 L428.84 119.3 L429.91 119.27 L430.98 119.25 L432.05 119.22 L433.12 119.19 L434.19 119.16 L435.26 119.12 L436.33 119.09 L437.41 119.06 L438.48 119.03 L439.55 118.99 L440.62 118.96 L441.69 118.93 L442.76 118.89 L443.83 118.86 L444.9 118.83 L445.98 118.8 L447.05 118.77 L448.12 118.74 L449.19 118.71 L450.26 118.68 L451.33 118.65 L452.4 118.63 L453.47 118.6 L454.55 118.57 L455.62 118.54 L456.69 118.51 L457.76 118.48 L458.83 118.46 L459.9 118.43 L460.97 118.39 L462.04 118.36 L463.12 118.33 L464.19 118.3 L465.26 118.26 L466.33 118.22 L467.4 118.19 L468.47 118.14 L469.54 118.1 L470.61 118.05 L471.69 118.01 L472.76 117.95 L473.83 117.9 L474.9 117.85 L475.97 117.79 L477.04 117.73 L478.11 117.67 L479.18 117.62 L480.25 117.56 L481.33 117.5 L482.4 117.44 L483.47 117.38 L484.54 117.32 L485.61 117.26 L486.68 117.21 L487.75 117.16 L488.83 117.1 L489.9 117.05 L490.97 117 L492.04 116.95 L493.11 116.9 L494.18 116.85 L495.25 116.8 L496.32 116.75 L497.39 116.71 L498.47 116.66 L499.54 116.61 L500.61 116.56 L501.68 116.51 L502.75 116.47 L503.82 116.42 L504.89 116.37 L505.97 116.32 L507.04 116.28 L508.11 116.23 L509.18 116.19 L510.25 116.14" fill="none" stroke="#000" stroke-width="1.55" stroke-dasharray="4.2 2.1" stroke-linejoin="round"/>
<path d="M296 151 L297.07 150.72 L298.14 150.3 L299.21 149.8 L300.29 149.22 L301.36 148.47 L302.43 147.58 L303.5 146.54 L304.57 145.2 L305.64 143.52 L306.71 142.02 L307.78 140.63 L308.86 139.32 L309.93 138.11 L311 137.02 L312.07 136.02 L313.14 135.1 L314.21 134.22 L315.28 133.39 L316.35 132.62 L317.43 131.88 L318.5 131.15 L319.57 130.4 L320.64 129.6 L321.71 128.76 L322.78 127.92 L323.85 127.09 L324.92 126.33 L326 125.61 L327.07 124.91 L328.14 124.23 L329.21 123.57 L330.28 122.92 L331.35 122.29 L332.42 121.67 L333.49 121.07 L334.56 120.47 L335.64 119.85 L336.71 119.23 L337.78 118.6 L338.85 117.98 L339.92 117.38 L340.99 116.82 L342.06 116.29 L343.13 115.81 L344.21 115.4 L345.28 115.06 L346.35 114.77 L347.42 114.49 L348.49 114.24 L349.56 114 L350.63 113.77 L351.7 113.55 L352.78 113.35 L353.85 113.16 L354.92 112.97 L355.99 112.8 L357.06 112.63 L358.13 112.46 L359.2 112.3 L360.27 112.14 L361.35 111.99 L362.42 111.83 L363.49 111.67 L364.56 111.51 L365.63 111.35 L366.7 111.18 L367.77 111.01 L368.85 110.83 L369.92 110.64 L370.99 110.45 L372.06 110.25 L373.13 110.06 L374.2 109.86 L375.27 109.66 L376.34 109.46 L377.42 109.26 L378.49 109.07 L379.56 108.88 L380.63 108.69 L381.7 108.51 L382.77 108.34 L383.84 108.18 L384.91 108.02 L385.99 107.88 L387.06 107.74 L388.13 107.63 L389.2 107.52 L390.27 107.43 L391.34 107.35 L392.41 107.29 L393.48 107.23 L394.56 107.17 L395.63 107.11 L396.7 107.07 L397.77 107.02 L398.84 106.97 L399.91 106.93 L400.98 106.89 L402.05 106.86 L403.12 106.82 L404.2 106.79 L405.27 106.75 L406.34 106.72 L407.41 106.69 L408.48 106.66 L409.55 106.63 L410.62 106.61 L411.69 106.58 L412.77 106.56 L413.84 106.54 L414.91 106.51 L415.98 106.49 L417.05 106.47 L418.12 106.44 L419.19 106.42 L420.26 106.39 L421.34 106.37 L422.41 106.34 L423.48 106.31 L424.55 106.29 L425.62 106.25 L426.69 106.22 L427.76 106.19 L428.84 106.16 L429.91 106.12 L430.98 106.09 L432.05 106.06 L433.12 106.02 L434.19 105.98 L435.26 105.95 L436.33 105.91 L437.41 105.87 L438.48 105.83 L439.55 105.8 L440.62 105.76 L441.69 105.72 L442.76 105.68 L443.83 105.64 L444.9 105.6 L445.98 105.56 L447.05 105.52 L448.12 105.48 L449.19 105.43 L450.26 105.38 L451.33 105.33 L452.4 105.28 L453.47 105.22 L454.55 105.17 L455.62 105.11 L456.69 105.05 L457.76 105 L458.83 104.94 L459.9 104.88 L460.97 104.83 L462.04 104.77 L463.12 104.72 L464.19 104.67 L465.26 104.62 L466.33 104.58 L467.4 104.54 L468.47 104.5 L469.54 104.46 L470.61 104.44 L471.69 104.41 L472.76 104.39 L473.83 104.37 L474.9 104.37 L475.97 104.36 L477.04 104.37 L478.11 104.41 L479.18 104.46 L480.25 104.53 L481.33 104.61 L482.4 104.7 L483.47 104.8 L484.54 104.9 L485.61 105 L486.68 105.1 L487.75 105.19 L488.83 105.28 L489.9 105.34 L490.97 105.4 L492.04 105.43 L493.11 105.44 L494.18 105.44 L495.25 105.43 L496.32 105.41 L497.39 105.38 L498.47 105.34 L499.54 105.29 L500.61 105.24 L501.68 105.17 L502.75 105.1 L503.82 105.02 L504.89 104.93 L505.97 104.84 L507.04 104.73 L508.11 104.62 L509.18 104.49 L510.25 104.36" fill="none" stroke="#000" stroke-width="1.4" stroke-linejoin="round"/>
<path d="M305 44.8 H507.8" stroke="#000" stroke-width="1.5"/>
<path d="M305 53.2 H507.8 M305 61.8 H507.8" stroke="#000" stroke-width="1.0"/>
<path d="M344.7 34.6 V69.4 M380.2 34.6 V69.4 M416.6 34.6 V69.4 M452.3 34.6 V69.4 M488.3 34.6 V69.4" stroke="#000" stroke-width="0.95"/>
<path d="M353.75 33.8 h17.4" stroke="#000" stroke-width="1.5"/>
<path d="M389.7 33.8 h17.4" stroke="#000" stroke-width="1.6500000000000001" stroke-dasharray="4.7 2.0"/>
<path d="M425.75 33.8 h17.4" stroke="#999" stroke-width="1.5" stroke-dasharray="4.7 2.0"/>
<path d="M461.6 33.8 h17.4" stroke="#000" stroke-width="1.7000000000000002" stroke-dasharray="1.4 1.35"/>
<text x="306.9" y="42.3" class="tb">Prob (95% CI)</text>
<text x="362.45" y="42.3" class="tb" text-anchor="middle">+/+ (n = 649)</text>
<text x="398.4" y="42.3" class="tb" text-anchor="middle">+/− (n = 243)</text>
<text x="434.45" y="42.3" class="tb" text-anchor="middle">−/+ (n = 460)</text>
<text x="470.3" y="42.3" class="tb" text-anchor="middle">−/− (n = 509)</text>
<text x="498.05" y="42.3" class="tb" text-anchor="middle"><tspan font-style="italic">P</tspan>-value</text>
<text x="306.9" y="50.7" class="tb"><tspan font-weight="bold">@</tspan> 6 months</text>
<text x="362.45" y="50.7" class="tb" text-anchor="middle">17 (14–20)%</text>
<text x="398.4" y="50.7" class="tb" text-anchor="middle">12 (9–17)%</text>
<text x="434.45" y="50.7" class="tb" text-anchor="middle">14 (11–17)%</text>
<text x="470.3" y="50.7" class="tb" text-anchor="middle">17 (13–20)%</text>
<text x="498.05" y="50.7" class="tb" text-anchor="middle">.26</text>
<text x="306.9" y="59.3" class="tb"><tspan font-weight="bold">@</tspan> 1 year</text>
<text x="362.45" y="59.3" class="tb" text-anchor="middle">28 (25–31)%</text>
<text x="398.4" y="59.3" class="tb" text-anchor="middle">16 (12–21)%</text>
<text x="434.45" y="59.3" class="tb" text-anchor="middle">21 (17–25)%</text>
<text x="470.3" y="59.3" class="tb" text-anchor="middle">23 (20–27)%</text>
<text x="498.05" y="59.3" class="tb" text-anchor="middle">< .001</text>
<text x="306.9" y="67.9" class="tb"><tspan font-weight="bold">@</tspan> 3 year</text>
<text x="362.45" y="67.9" class="tb" text-anchor="middle">37 (34–31)%</text>
<text x="398.4" y="67.9" class="tb" text-anchor="middle">27 (21–32)%</text>
<text x="434.45" y="67.9" class="tb" text-anchor="middle">29 (25–33)%</text>
<text x="470.3" y="67.9" class="tb" text-anchor="middle">33 (29–37)%</text>
<text x="498.05" y="67.9" class="tb" text-anchor="middle">.003</text>
<text x="7.5" y="203.4" font-size="11" font-weight="bold" fill="#000" stroke="#000" stroke-width="0.45">C</text>
<text x="42.3" y="202.9" font-size="9.5" font-weight="bold" fill="#000" stroke="#000" stroke-width="0.3">CML</text>
<path d="M41 216.5 V339.8 H260.2" fill="none" stroke="#000" stroke-width="1.15"/>
<path d="M37.3 339.5 h3.6 M37.9 327.45 h3 M37.3 315.4 h3.6 M37.9 303.35 h3 M37.3 291.3 h3.6 M37.9 279.25 h3 M37.3 267.2 h3.6 M37.9 255.15 h3 M37.3 243.1 h3.6 M37.9 231.05 h3 M37.3 219 h3.6 M40.9 339.5 v3.4 M62.45 339.5 v2.8 M84 339.5 v3.4 M105.55 339.5 v2.8 M127.1 339.5 v3.4 M148.65 339.5 v2.8 M170.2 339.5 v3.4 M191.75 339.5 v2.8 M213.3 339.5 v3.4 M234.85 339.5 v2.8 M256.4 339.5 v3.4" stroke="#000" stroke-width="1.1"/>
<text transform="translate(34.4 342.4) scale(0.96 1.13)" class="tk" text-anchor="end">0</text>
<text transform="translate(34.4 318.3) scale(0.96 1.13)" class="tk" text-anchor="end">20</text>
<text transform="translate(34.4 294.2) scale(0.96 1.13)" class="tk" text-anchor="end">40</text>
<text transform="translate(34.4 270.1) scale(0.96 1.13)" class="tk" text-anchor="end">60</text>
<text transform="translate(34.4 246) scale(0.96 1.13)" class="tk" text-anchor="end">80</text>
<text transform="translate(34.4 221.9) scale(0.96 1.13)" class="tk" text-anchor="end">100</text>
<text transform="translate(40.9 352.8) scale(0.96 1.13)" class="tk" text-anchor="middle">0</text>
<text transform="translate(84 352.8) scale(0.96 1.13)" class="tk" text-anchor="middle">1</text>
<text transform="translate(127.1 352.8) scale(0.96 1.13)" class="tk" text-anchor="middle">2</text>
<text transform="translate(170.2 352.8) scale(0.96 1.13)" class="tk" text-anchor="middle">3</text>
<text transform="translate(213.3 352.8) scale(0.96 1.13)" class="tk" text-anchor="middle">4</text>
<text transform="translate(256.4 352.8) scale(0.96 1.13)" class="tk" text-anchor="middle">5</text>
<text transform="translate(15.9 279.7) rotate(-90) scale(0.835 1)" class="yl" text-anchor="middle">Cumulative incidence, %</text>
<text class="yr" text-anchor="middle" transform="translate(149 366.1) scale(0.79 1)">Years</text>
<path d="M40.9 339.5 L41.98 337.93 L43.05 336.67 L44.13 335.55 L45.21 334.52 L46.29 333.5 L47.37 332.47 L48.44 331.58 L49.52 330.62 L50.6 329.28 L51.67 326.75 L52.75 324.79 L53.83 323.77 L54.91 323 L55.98 322.27 L57.06 321.5 L58.14 320.76 L59.22 320.08 L60.3 319.5 L61.37 318.99 L62.45 318.53 L63.53 318.09 L64.61 317.69 L65.68 317.3 L66.76 316.94 L67.84 316.58 L68.91 316.24 L69.99 315.89 L71.07 315.54 L72.15 315.19 L73.22 314.83 L74.3 314.47 L75.38 314.12 L76.46 313.78 L77.53 313.44 L78.61 313.11 L79.69 312.8 L80.77 312.51 L81.84 312.23 L82.92 311.98 L84 311.73 L85.08 311.5 L86.16 311.27 L87.23 311.06 L88.31 310.85 L89.39 310.64 L90.47 310.45 L91.54 310.26 L92.62 310.08 L93.7 309.91 L94.78 309.75 L95.85 309.59 L96.93 309.44 L98.01 309.29 L99.09 309.15 L100.16 309.01 L101.24 308.87 L102.32 308.75 L103.4 308.62 L104.47 308.51 L105.55 308.4 L106.63 308.3 L107.71 308.21 L108.78 308.12 L109.86 308.05 L110.94 307.99 L112.02 307.93 L113.09 307.88 L114.17 307.83 L115.25 307.78 L116.32 307.72 L117.4 307.65 L118.48 307.57 L119.56 307.47 L120.63 307.33 L121.71 307.14 L122.79 306.9 L123.87 306.63 L124.95 306.35 L126.02 306.07 L127.1 305.73 L128.18 305.36 L129.26 305.01 L130.33 304.7 L131.41 304.47 L132.49 304.27 L133.56 304.1 L134.64 303.94 L135.72 303.79 L136.8 303.65 L137.88 303.52 L138.95 303.38 L140.03 303.23 L141.11 303.08 L142.19 302.94 L143.26 302.8 L144.34 302.66 L145.42 302.53 L146.5 302.39 L147.57 302.26 L148.65 302.13 L149.73 301.99 L150.81 301.86 L151.88 301.72 L152.96 301.57 L154.04 301.43 L155.12 301.27 L156.19 301.11 L157.27 300.94 L158.35 300.77 L159.43 300.62 L160.5 300.46 L161.58 300.3 L162.66 300.13 L163.74 299.95 L164.81 299.74 L165.89 299.51 L166.97 299.24 L168.05 298.93 L169.12 298.56 L170.2 297.83 L171.28 296.77 L172.36 295.61 L173.43 294.59 L174.51 293.95 L175.59 293.61 L176.67 293.32 L177.74 293.06 L178.82 292.85 L179.9 292.66 L180.98 292.48 L182.05 292.32 L183.13 292.16 L184.21 292 L185.29 291.82 L186.36 291.62 L187.44 291.41 L188.52 291.19 L189.6 290.98 L190.67 290.77 L191.75 290.56 L192.83 290.36 L193.91 290.18 L194.98 290.01 L196.06 289.86 L197.14 289.72 L198.22 289.6 L199.29 289.49 L200.37 289.39 L201.45 289.29 L202.53 289.18 L203.6 289.07 L204.68 288.95 L205.76 288.82 L206.84 288.67 L207.91 288.49 L208.99 288.27 L210.07 288.01 L211.15 287.72 L212.22 287.41 L213.3 287.09 L214.38 286.76 L215.46 286.35 L216.53 285.91 L217.61 285.49 L218.69 285.12 L219.77 284.86 L220.84 284.72 L221.92 284.59 L223 284.48 L224.08 284.38 L225.15 284.28 L226.23 284.2 L227.31 284.12 L228.39 284.06 L229.46 284.01 L230.54 283.98 L231.62 283.96 L232.7 283.95 L233.77 283.95 L234.85 283.95 L235.93 283.95 L237 283.95 L238.08 283.95 L239.16 283.95 L240.24 283.95 L241.32 283.95 L242.39 283.95 L243.47 283.95 L244.55 283.95 L245.62 283.95 L246.7 283.95 L247.78 283.95 L248.86 283.95 L249.94 283.95 L251.01 283.95 L252.09 283.95 L253.17 283.95 L254.25 283.95 L255.32 283.95 L256.4 283.95" fill="none" stroke="#999" stroke-width="1.4" stroke-dasharray="4.2 2.1" stroke-linejoin="round"/>
<path d="M40.9 339.5 L41.98 338.14 L43.05 337.06 L44.13 336.11 L45.21 335.17 L46.29 334.16 L47.37 332.96 L48.44 331.47 L49.52 329.88 L50.6 328.47 L51.67 327.45 L52.75 326.63 L53.83 325.96 L54.91 325.43 L55.98 324.99 L57.06 324.6 L58.14 324.26 L59.22 323.96 L60.3 323.71 L61.37 323.5 L62.45 323.31 L63.53 323.15 L64.61 323 L65.68 322.86 L66.76 322.73 L67.84 322.59 L68.91 322.44 L69.99 322.28 L71.07 322.11 L72.15 321.9 L73.22 321.67 L74.3 321.41 L75.38 321.13 L76.46 320.85 L77.53 320.55 L78.61 320.26 L79.69 319.98 L80.77 319.7 L81.84 319.44 L82.92 319.21 L84 319.01 L85.08 318.82 L86.16 318.63 L87.23 318.43 L88.31 318.19 L89.39 317.91 L90.47 317.6 L91.54 317.27 L92.62 316.93 L93.7 316.6 L94.78 316.3 L95.85 316.02 L96.93 315.8 L98.01 315.59 L99.09 315.39 L100.16 315.2 L101.24 315.02 L102.32 314.85 L103.4 314.69 L104.47 314.54 L105.55 314.39 L106.63 314.26 L107.71 314.13 L108.78 314 L109.86 313.9 L110.94 313.81 L112.02 313.73 L113.09 313.65 L114.17 313.57 L115.25 313.49 L116.32 313.4 L117.4 313.29 L118.48 313.17 L119.56 313.02 L120.63 312.81 L121.71 312.5 L122.79 312.12 L123.87 311.71 L124.95 311.32 L126.02 310.98 L127.1 310.65 L128.18 310.32 L129.26 310 L130.33 309.68 L131.41 309.37 L132.49 309.02 L133.56 308.64 L134.64 308.26 L135.72 307.9 L136.8 307.58 L137.88 307.32 L138.95 307.15 L140.03 307.09 L141.11 307.09 L142.19 307.11 L143.26 307.14 L144.34 307.18 L145.42 307.23 L146.5 307.28 L147.57 307.33 L148.65 307.39 L149.73 307.44 L150.81 307.5 L151.88 307.55 L152.96 307.59 L154.04 307.63 L155.12 307.66 L156.19 307.68 L157.27 307.69 L158.35 307.65 L159.43 307.52 L160.5 307.33 L161.58 307.07 L162.66 306.76 L163.74 306.4 L164.81 306 L165.89 305.58 L166.97 305.04 L168.05 304.16 L169.12 303.08 L170.2 302.01 L171.28 301.15 L172.36 300.37 L173.43 299.6 L174.51 298.88 L175.59 298.23 L176.67 297.72 L177.74 297.37 L178.82 297.17 L179.9 296.99 L180.98 296.84 L182.05 296.7 L183.13 296.58 L184.21 296.48 L185.29 296.38 L186.36 296.29 L187.44 296.21 L188.52 296.13 L189.6 296.05 L190.67 295.97 L191.75 295.88 L192.83 295.79 L193.91 295.71 L194.98 295.63 L196.06 295.56 L197.14 295.48 L198.22 295.41 L199.29 295.33 L200.37 295.24 L201.45 295.15 L202.53 295.07 L203.6 294.97 L204.68 294.88 L205.76 294.79 L206.84 294.69 L207.91 294.6 L208.99 294.5 L210.07 294.4 L211.15 294.31 L212.22 294.21 L213.3 294.11 L214.38 294.01 L215.46 293.89 L216.53 293.76 L217.61 293.64 L218.69 293.54 L219.77 293.48 L220.84 293.46 L221.92 293.45 L223 293.43 L224.08 293.42 L225.15 293.41 L226.23 293.4 L227.31 293.39 L228.39 293.38 L229.46 293.38 L230.54 293.37 L231.62 293.37 L232.7 293.36 L233.77 293.36 L234.85 293.35 L235.93 293.35 L237 293.35 L238.08 293.35 L239.16 293.35 L240.24 293.35 L241.32 293.35 L242.39 293.35 L243.47 293.36 L244.55 293.36 L245.62 293.37 L246.7 293.37 L247.78 293.38 L248.86 293.39 L249.94 293.4 L251.01 293.41 L252.09 293.42 L253.17 293.43 L254.25 293.44 L255.32 293.46 L256.4 293.47" fill="none" stroke="#000" stroke-width="1.6" stroke-dasharray="1.25 1.25" stroke-linejoin="round"/>
<path d="M40.9 339.5 L41.98 338.15 L43.05 337.12 L44.13 336.21 L45.21 335.32 L46.29 334.37 L47.37 333.22 L48.44 331.78 L49.52 330.25 L50.6 328.91 L51.67 327.96 L52.75 327.23 L53.83 326.63 L54.91 326.16 L55.98 325.78 L57.06 325.45 L58.14 325.16 L59.22 324.91 L60.3 324.68 L61.37 324.47 L62.45 324.29 L63.53 324.13 L64.61 323.98 L65.68 323.84 L66.76 323.7 L67.84 323.56 L68.91 323.41 L69.99 323.25 L71.07 323.07 L72.15 322.87 L73.22 322.65 L74.3 322.42 L75.38 322.17 L76.46 321.91 L77.53 321.65 L78.61 321.38 L79.69 321.1 L80.77 320.83 L81.84 320.56 L82.92 320.29 L84 320.02 L85.08 319.74 L86.16 319.46 L87.23 319.18 L88.31 318.9 L89.39 318.62 L90.47 318.33 L91.54 318.05 L92.62 317.76 L93.7 317.49 L94.78 317.22 L95.85 316.98 L96.93 316.76 L98.01 316.55 L99.09 316.35 L100.16 316.15 L101.24 315.97 L102.32 315.78 L103.4 315.61 L104.47 315.44 L105.55 315.28 L106.63 315.13 L107.71 314.98 L108.78 314.83 L109.86 314.71 L110.94 314.6 L112.02 314.5 L113.09 314.4 L114.17 314.3 L115.25 314.19 L116.32 314.08 L117.4 313.95 L118.48 313.8 L119.56 313.63 L120.63 313.4 L121.71 313.08 L122.79 312.7 L123.87 312.31 L124.95 311.92 L126.02 311.58 L127.1 311.25 L128.18 310.93 L129.26 310.6 L130.33 310.29 L131.41 309.97 L132.49 309.61 L133.56 309.21 L134.64 308.81 L135.72 308.43 L136.8 308.09 L137.88 307.82 L138.95 307.63 L140.03 307.57 L141.11 307.57 L142.19 307.58 L143.26 307.6 L144.34 307.62 L145.42 307.65 L146.5 307.68 L147.57 307.71 L148.65 307.75 L149.73 307.78 L150.81 307.81 L151.88 307.85 L152.96 307.87 L154.04 307.9 L155.12 307.91 L156.19 307.92 L157.27 307.93 L158.35 307.89 L159.43 307.78 L160.5 307.59 L161.58 307.35 L162.66 307.06 L163.74 306.72 L164.81 306.34 L165.89 305.93 L166.97 305.41 L168.05 304.49 L169.12 303.37 L170.2 302.27 L171.28 301.39 L172.36 300.61 L173.43 299.83 L174.51 299.11 L175.59 298.47 L176.67 297.96 L177.74 297.61 L178.82 297.41 L179.9 297.23 L180.98 297.07 L182.05 296.93 L183.13 296.81 L184.21 296.7 L185.29 296.6 L186.36 296.51 L187.44 296.43 L188.52 296.35 L189.6 296.27 L190.67 296.2 L191.75 296.12 L192.83 296.05 L193.91 295.98 L194.98 295.92 L196.06 295.86 L197.14 295.81 L198.22 295.75 L199.29 295.68 L200.37 295.61 L201.45 295.53 L202.53 295.44 L203.6 295.36 L204.68 295.26 L205.76 295.17 L206.84 295.07 L207.91 294.97 L208.99 294.87 L210.07 294.77 L211.15 294.67 L212.22 294.57 L213.3 294.47 L214.38 294.37 L215.46 294.25 L216.53 294.12 L217.61 294 L218.69 293.9 L219.77 293.84 L220.84 293.82 L221.92 293.81 L223 293.8 L224.08 293.78 L225.15 293.77 L226.23 293.76 L227.31 293.75 L228.39 293.75 L229.46 293.74 L230.54 293.73 L231.62 293.73 L232.7 293.72 L233.77 293.72 L234.85 293.72 L235.93 293.71 L237 293.71 L238.08 293.71 L239.16 293.71 L240.24 293.71 L241.32 293.71 L242.39 293.71 L243.47 293.71 L244.55 293.71 L245.62 293.71 L246.7 293.71 L247.78 293.71 L248.86 293.71 L249.94 293.71 L251.01 293.71 L252.09 293.71 L253.17 293.71 L254.25 293.71 L255.32 293.71 L256.4 293.71" fill="none" stroke="#000" stroke-width="1.55" stroke-dasharray="4.2 2.1" stroke-linejoin="round"/>
<path d="M40.9 339.5 L41.98 337.9 L43.05 336.58 L44.13 335.38 L45.21 334.26 L46.29 333.17 L47.37 332.09 L48.44 331.17 L49.52 330.18 L50.6 328.78 L51.67 326.03 L52.75 323.94 L53.83 322.92 L54.91 322.16 L55.98 321.43 L57.06 320.62 L58.14 319.84 L59.22 319.13 L60.3 318.53 L61.37 318.04 L62.45 317.6 L63.53 317.19 L64.61 316.81 L65.68 316.45 L66.76 316.12 L67.84 315.79 L68.91 315.47 L69.99 315.15 L71.07 314.81 L72.15 314.47 L73.22 314.12 L74.3 313.76 L75.38 313.41 L76.46 313.06 L77.53 312.72 L78.61 312.39 L79.69 312.07 L80.77 311.78 L81.84 311.5 L82.92 311.26 L84 311.02 L85.08 310.79 L86.16 310.57 L87.23 310.36 L88.31 310.15 L89.39 309.96 L90.47 309.77 L91.54 309.59 L92.62 309.42 L93.7 309.26 L94.78 309.11 L95.85 308.97 L96.93 308.84 L98.01 308.72 L99.09 308.6 L100.16 308.48 L101.24 308.38 L102.32 308.27 L103.4 308.17 L104.47 308.08 L105.55 308 L106.63 307.91 L107.71 307.84 L108.78 307.77 L109.86 307.71 L110.94 307.66 L112.02 307.62 L113.09 307.57 L114.17 307.53 L115.25 307.49 L116.32 307.44 L117.4 307.38 L118.48 307.31 L119.56 307.23 L120.63 307.1 L121.71 306.91 L122.79 306.66 L123.87 306.39 L124.95 306.11 L126.02 305.82 L127.1 305.46 L128.18 305.07 L129.26 304.71 L130.33 304.43 L131.41 304.26 L132.49 304.14 L133.56 304.03 L134.64 303.95 L135.72 303.87 L136.8 303.8 L137.88 303.73 L138.95 303.66 L140.03 303.59 L141.11 303.52 L142.19 303.45 L143.26 303.38 L144.34 303.32 L145.42 303.26 L146.5 303.2 L147.57 303.15 L148.65 303.09 L149.73 303.03 L150.81 302.97 L151.88 302.9 L152.96 302.84 L154.04 302.76 L155.12 302.68 L156.19 302.6 L157.27 302.51 L158.35 302.41 L159.43 302.31 L160.5 302.2 L161.58 302.08 L162.66 301.96 L163.74 301.81 L164.81 301.65 L165.89 301.47 L166.97 301.26 L168.05 301.03 L169.12 300.76 L170.2 300.22 L171.28 299.45 L172.36 298.6 L173.43 297.83 L174.51 297.32 L175.59 297.03 L176.67 296.78 L177.74 296.57 L178.82 296.39 L179.9 296.22 L180.98 296.05 L182.05 295.9 L183.13 295.75 L184.21 295.61 L185.29 295.48 L186.36 295.35 L187.44 295.23 L188.52 295.11 L189.6 295 L190.67 294.9 L191.75 294.79 L192.83 294.7 L193.91 294.61 L194.98 294.54 L196.06 294.47 L197.14 294.4 L198.22 294.34 L199.29 294.27 L200.37 294.21 L201.45 294.14 L202.53 294.07 L203.6 293.99 L204.68 293.9 L205.76 293.8 L206.84 293.69 L207.91 293.56 L208.99 293.4 L210.07 293.19 L211.15 292.95 L212.22 292.68 L213.3 292.39 L214.38 292.05 L215.46 291.57 L216.53 291.02 L217.61 290.46 L218.69 289.96 L219.77 289.59 L220.84 289.38 L221.92 289.2 L223 289.04 L224.08 288.9 L225.15 288.77 L226.23 288.65 L227.31 288.54 L228.39 288.45 L229.46 288.37 L230.54 288.29 L231.62 288.23 L232.7 288.17 L233.77 288.12 L234.85 288.07 L235.93 288.03 L237 288 L238.08 287.97 L239.16 287.94 L240.24 287.92 L241.32 287.9 L242.39 287.88 L243.47 287.85 L244.55 287.83 L245.62 287.8 L246.7 287.77 L247.78 287.73 L248.86 287.69 L249.94 287.64 L251.01 287.58 L252.09 287.49 L253.17 287.36 L254.25 287.2 L255.32 287.02 L256.4 286.84" fill="none" stroke="#000" stroke-width="1.4" stroke-linejoin="round"/>
<path d="M53.5 234.2 H254.6" stroke="#000" stroke-width="1.5"/>
<path d="M53.5 242.6 H254.6 M53.5 251.3 H254.6" stroke="#000" stroke-width="1.0"/>
<path d="M92.3 224 V258.5 M128.9 224 V258.5 M164.4 224 V258.5 M200.2 224 V258.5 M235.2 224 V258.5" stroke="#000" stroke-width="0.95"/>
<path d="M101.9 222.8 h17.4" stroke="#000" stroke-width="1.5"/>
<path d="M137.95 222.8 h17.4" stroke="#000" stroke-width="1.6500000000000001" stroke-dasharray="4.7 2.0"/>
<path d="M173.6 222.8 h17.4" stroke="#999" stroke-width="1.5" stroke-dasharray="4.7 2.0"/>
<path d="M209 222.8 h17.4" stroke="#000" stroke-width="1.7000000000000002" stroke-dasharray="1.4 1.35"/>
<text x="54.9" y="231.3" class="tb">Prob (95% CI)</text>
<text x="110.6" y="231.3" class="tb" text-anchor="middle">+/+ (n = 404)</text>
<text x="146.65" y="231.3" class="tb" text-anchor="middle">+/− (n = 102)</text>
<text x="182.3" y="231.3" class="tb" text-anchor="middle">−/+ (n = 189)</text>
<text x="217.7" y="231.3" class="tb" text-anchor="middle">−/− (n = 294)</text>
<text x="244.9" y="231.3" class="tb" text-anchor="middle"><tspan font-style="italic">P</tspan>-value</text>
<text x="54.9" y="240.4" class="tb"><tspan font-weight="bold">@</tspan> 6 months</text>
<text x="110.6" y="240.4" class="tb" text-anchor="middle">17 (14–21)%</text>
<text x="146.65" y="240.4" class="tb" text-anchor="middle">12 (6–19)%</text>
<text x="182.3" y="240.4" class="tb" text-anchor="middle">16 (12–22)%</text>
<text x="217.7" y="240.4" class="tb" text-anchor="middle">13 (10–17)%</text>
<text x="244.9" y="240.4" class="tb" text-anchor="middle">.31</text>
<text x="54.9" y="249" class="tb"><tspan font-weight="bold">@</tspan> 1 year</text>
<text x="110.6" y="249" class="tb" text-anchor="middle">23 (19–27)%</text>
<text x="146.65" y="249" class="tb" text-anchor="middle">17 (10–25)%</text>
<text x="182.3" y="249" class="tb" text-anchor="middle">22 (17–28)%</text>
<text x="217.7" y="249" class="tb" text-anchor="middle">17 (13–22)%</text>
<text x="244.9" y="249" class="tb" text-anchor="middle">.15</text>
<text x="54.9" y="257.6" class="tb"><tspan font-weight="bold">@</tspan> 3 year</text>
<text x="110.6" y="257.6" class="tb" text-anchor="middle">33 (28–38)%</text>
<text x="146.65" y="257.6" class="tb" text-anchor="middle">30 (21–39)%</text>
<text x="182.3" y="257.6" class="tb" text-anchor="middle">34 (27–41)%</text>
<text x="217.7" y="257.6" class="tb" text-anchor="middle">28 (23–33)%</text>
<text x="244.9" y="257.6" class="tb" text-anchor="middle">.44</text>
<text x="263" y="207.9" font-size="11" font-weight="bold" fill="#000" stroke="#000" stroke-width="0.45">D</text>
<text x="297" y="208" font-size="9.5" font-weight="bold" fill="#000" stroke="#000" stroke-width="0.3">MDS</text>
<path d="M296 220 V340.3 H508.4" fill="none" stroke="#000" stroke-width="1.15"/>
<path d="M292.3 340 h3.6 M292.9 328.25 h3 M292.3 316.5 h3.6 M292.9 304.75 h3 M292.3 293 h3.6 M292.9 281.25 h3 M292.3 269.5 h3.6 M292.9 257.75 h3 M292.3 246 h3.6 M292.9 234.25 h3 M292.3 222.5 h3.6 M295.9 340 v3.4 M316.86 340 v2.8 M337.82 340 v3.4 M358.78 340 v2.8 M379.74 340 v3.4 M400.7 340 v2.8 M421.66 340 v3.4 M442.62 340 v2.8 M463.58 340 v3.4 M484.54 340 v2.8 M505.5 340 v3.4" stroke="#000" stroke-width="1.1"/>
<text transform="translate(289.4 342.9) scale(0.96 1.13)" class="tk" text-anchor="end">0</text>
<text transform="translate(289.4 319.4) scale(0.96 1.13)" class="tk" text-anchor="end">20</text>
<text transform="translate(289.4 295.9) scale(0.96 1.13)" class="tk" text-anchor="end">40</text>
<text transform="translate(289.4 272.4) scale(0.96 1.13)" class="tk" text-anchor="end">60</text>
<text transform="translate(289.4 248.9) scale(0.96 1.13)" class="tk" text-anchor="end">80</text>
<text transform="translate(289.4 225.4) scale(0.96 1.13)" class="tk" text-anchor="end">100</text>
<text transform="translate(295.9 353.3) scale(0.96 1.13)" class="tk" text-anchor="middle">0</text>
<text transform="translate(337.82 353.3) scale(0.96 1.13)" class="tk" text-anchor="middle">1</text>
<text transform="translate(379.74 353.3) scale(0.96 1.13)" class="tk" text-anchor="middle">2</text>
<text transform="translate(421.66 353.3) scale(0.96 1.13)" class="tk" text-anchor="middle">3</text>
<text transform="translate(463.58 353.3) scale(0.96 1.13)" class="tk" text-anchor="middle">4</text>
<text transform="translate(505.5 353.3) scale(0.96 1.13)" class="tk" text-anchor="middle">5</text>
<text transform="translate(271.3 280.7) rotate(-90) scale(0.835 1)" class="yl" text-anchor="middle">Cumulative incidence, %</text>
<text class="yr" text-anchor="middle" transform="translate(401 366.2) scale(0.79 1)">Years</text>
<path d="M295.9 340 L296.95 339.01 L298 338.12 L299.04 337.31 L300.09 336.54 L301.14 335.77 L302.19 334.94 L303.24 334.02 L304.28 332.95 L305.33 331.55 L306.38 329.84 L307.43 328.07 L308.48 326.49 L309.52 325.13 L310.57 323.85 L311.62 322.62 L312.67 321.45 L313.72 320.3 L314.76 319.17 L315.81 318.03 L316.86 316.84 L317.91 315.68 L318.96 314.7 L320 313.98 L321.05 313.38 L322.1 312.87 L323.15 312.4 L324.2 311.96 L325.24 311.52 L326.29 311.05 L327.34 310.6 L328.39 310.17 L329.44 309.75 L330.48 309.33 L331.53 308.91 L332.58 308.48 L333.63 308.05 L334.68 307.59 L335.72 307.05 L336.77 306.51 L337.82 306.16 L338.87 305.97 L339.92 305.81 L340.96 305.67 L342.01 305.54 L343.06 305.43 L344.11 305.34 L345.16 305.25 L346.2 305.17 L347.25 305.09 L348.3 305.02 L349.35 304.94 L350.4 304.86 L351.44 304.77 L352.49 304.68 L353.54 304.57 L354.59 304.45 L355.64 304.33 L356.68 304.21 L357.73 304.09 L358.78 303.97 L359.83 303.85 L360.88 303.72 L361.92 303.6 L362.97 303.48 L364.02 303.36 L365.07 303.25 L366.12 303.14 L367.16 303.03 L368.21 302.92 L369.26 302.83 L370.31 302.73 L371.36 302.65 L372.4 302.56 L373.45 302.47 L374.5 302.39 L375.55 302.31 L376.6 302.24 L377.64 302.17 L378.69 302.11 L379.74 302.05 L380.79 301.99 L381.84 301.94 L382.88 301.89 L383.93 301.85 L384.98 301.81 L386.03 301.77 L387.08 301.73 L388.12 301.69 L389.17 301.65 L390.22 301.61 L391.27 301.58 L392.32 301.54 L393.36 301.51 L394.41 301.47 L395.46 301.43 L396.51 301.39 L397.56 301.35 L398.6 301.31 L399.65 301.27 L400.7 301.23 L401.75 301.18 L402.8 301.13 L403.84 301.08 L404.89 301.03 L405.94 300.98 L406.99 300.93 L408.04 300.87 L409.08 300.82 L410.13 300.76 L411.18 300.71 L412.23 300.65 L413.28 300.59 L414.32 300.54 L415.37 300.48 L416.42 300.42 L417.47 300.36 L418.52 300.3 L419.56 300.24 L420.61 300.18 L421.66 300.13 L422.71 300.07 L423.76 300.01 L424.8 299.95 L425.85 299.89 L426.9 299.83 L427.95 299.77 L429 299.71 L430.04 299.65 L431.09 299.6 L432.14 299.54 L433.19 299.48 L434.24 299.43 L435.28 299.37 L436.33 299.32 L437.38 299.27 L438.43 299.21 L439.48 299.16 L440.52 299.11 L441.57 299.06 L442.62 299.01 L443.67 298.97 L444.72 298.92 L445.76 298.88 L446.81 298.83 L447.86 298.79 L448.91 298.75 L449.96 298.7 L451 298.66 L452.05 298.62 L453.1 298.58 L454.15 298.54 L455.2 298.5 L456.24 298.45 L457.29 298.41 L458.34 298.37 L459.39 298.32 L460.44 298.28 L461.48 298.23 L462.53 298.19 L463.58 298.14 L464.63 298.09 L465.68 298.04 L466.72 297.99 L467.77 297.93 L468.82 297.88 L469.87 297.82 L470.92 297.75 L471.96 297.68 L473.01 297.61 L474.06 297.53 L475.11 297.44 L476.16 297.35 L477.2 297.26 L478.25 297.17 L479.3 297.07 L480.35 296.98 L481.4 296.89 L482.44 296.8 L483.49 296.71 L484.54 296.63 L485.59 296.55 L486.64 296.48 L487.68 296.41 L488.73 296.35 L489.78 296.3 L490.83 296.25 L491.88 296.21 L492.92 296.17 L493.97 296.13 L495.02 296.09 L496.07 296.05 L497.12 296.01 L498.16 295.98 L499.21 295.95 L500.26 295.92 L501.31 295.89 L502.36 295.87 L503.4 295.85 L504.45 295.83 L505.5 295.82" fill="none" stroke="#999" stroke-width="1.4" stroke-dasharray="4.2 2.1" stroke-linejoin="round"/>
<path d="M295.9 340 L296.95 339.01 L298 338.11 L299.04 337.29 L300.09 336.51 L301.14 335.73 L302.19 334.9 L303.24 333.99 L304.28 332.95 L305.33 331.66 L306.38 330.12 L307.43 328.54 L308.48 327.07 L309.52 325.75 L310.57 324.47 L311.62 323.22 L312.67 322.02 L313.72 320.85 L314.76 319.72 L315.81 318.63 L316.86 317.54 L317.91 316.5 L318.96 315.62 L320 314.95 L321.05 314.41 L322.1 313.95 L323.15 313.53 L324.2 313.1 L325.24 312.61 L326.29 311.99 L327.34 311.19 L328.39 310.4 L329.44 309.81 L330.48 309.56 L331.53 309.37 L332.58 309.21 L333.63 309.07 L334.68 308.96 L335.72 308.87 L336.77 308.8 L337.82 308.75 L338.87 308.7 L339.92 308.66 L340.96 308.63 L342.01 308.6 L343.06 308.57 L344.11 308.55 L345.16 308.52 L346.2 308.49 L347.25 308.46 L348.3 308.44 L349.35 308.42 L350.4 308.4 L351.44 308.38 L352.49 308.36 L353.54 308.33 L354.59 308.31 L355.64 308.28 L356.68 308.25 L357.73 308.21 L358.78 308.16 L359.83 308.1 L360.88 308.04 L361.92 307.84 L362.97 307.47 L364.02 307.07 L365.07 306.74 L366.12 306.42 L367.16 306.11 L368.21 305.82 L369.26 305.58 L370.31 305.43 L371.36 305.31 L372.4 305.2 L373.45 305.1 L374.5 305 L375.55 304.91 L376.6 304.83 L377.64 304.75 L378.69 304.69 L379.74 304.63 L380.79 304.58 L381.84 304.55 L382.88 304.53 L383.93 304.52 L384.98 304.52 L386.03 304.53 L387.08 304.55 L388.12 304.58 L389.17 304.62 L390.22 304.67 L391.27 304.71 L392.32 304.76 L393.36 304.81 L394.41 304.85 L395.46 304.89 L396.51 304.93 L397.56 304.96 L398.6 304.98 L399.65 304.98 L400.7 304.97 L401.75 304.93 L402.8 304.87 L403.84 304.78 L404.89 304.68 L405.94 304.58 L406.99 304.49 L408.04 304.4 L409.08 304.32 L410.13 304.27 L411.18 304.23 L412.23 304.2 L413.28 304.17 L414.32 304.14 L415.37 304.12 L416.42 304.09 L417.47 304.07 L418.52 304.05 L419.56 304.03 L420.61 304.01 L421.66 303.98 L422.71 303.96 L423.76 303.93 L424.8 303.89 L425.85 303.85 L426.9 303.8 L427.95 303.72 L429 303.62 L430.04 303.49 L431.09 303.33 L432.14 303.17 L433.19 302.99 L434.24 302.81 L435.28 302.63 L436.33 302.45 L437.38 302.29 L438.43 302.15 L439.48 302.02 L440.52 301.93 L441.57 301.85 L442.62 301.78 L443.67 301.72 L444.72 301.66 L445.76 301.6 L446.81 301.55 L447.86 301.5 L448.91 301.45 L449.96 301.41 L451 301.36 L452.05 301.32 L453.1 301.28 L454.15 301.25 L455.2 301.21 L456.24 301.17 L457.29 301.13 L458.34 301.1 L459.39 301.06 L460.44 301.02 L461.48 300.97 L462.53 300.93 L463.58 300.88 L464.63 300.83 L465.68 300.78 L466.72 300.72 L467.77 300.66 L468.82 300.59 L469.87 300.52 L470.92 300.44 L471.96 300.33 L473.01 300.21 L474.06 300.08 L475.11 299.94 L476.16 299.79 L477.2 299.63 L478.25 299.47 L479.3 299.3 L480.35 299.14 L481.4 298.97 L482.44 298.82 L483.49 298.67 L484.54 298.53 L485.59 298.4 L486.64 298.29 L487.68 298.19 L488.73 298.12 L489.78 298.06 L490.83 298.02 L491.88 297.98 L492.92 297.95 L493.97 297.91 L495.02 297.88 L496.07 297.85 L497.12 297.82 L498.16 297.79 L499.21 297.77 L500.26 297.75 L501.31 297.73 L502.36 297.72 L503.4 297.71 L504.45 297.7 L505.5 297.7" fill="none" stroke="#000" stroke-width="1.6" stroke-dasharray="1.25 1.25" stroke-linejoin="round"/>
<path d="M295.9 340 L296.95 339.03 L298 338 L299.04 336.93 L300.09 335.84 L301.14 334.71 L302.19 333.54 L303.24 332.35 L304.28 331.15 L305.33 329.9 L306.38 328.58 L307.43 327.16 L308.48 325.61 L309.52 323.83 L310.57 321.88 L311.62 319.85 L312.67 317.62 L313.72 315.11 L314.76 312.77 L315.81 311.04 L316.86 309.62 L317.91 308.42 L318.96 307.62 L320 307.3 L321.05 307.11 L322.1 306.98 L323.15 306.88 L324.2 306.8 L325.24 306.71 L326.29 306.6 L327.34 306.45 L328.39 306.22 L329.44 305.73 L330.48 305.11 L331.53 304.63 L332.58 304.32 L333.63 304.04 L334.68 303.78 L335.72 303.53 L336.77 303.31 L337.82 303.1 L338.87 302.9 L339.92 302.72 L340.96 302.55 L342.01 302.39 L343.06 302.24 L344.11 302.1 L345.16 301.96 L346.2 301.82 L347.25 301.7 L348.3 301.58 L349.35 301.48 L350.4 301.37 L351.44 301.28 L352.49 301.18 L353.54 301.09 L354.59 301 L355.64 300.91 L356.68 300.82 L357.73 300.72 L358.78 300.62 L359.83 300.52 L360.88 300.4 L361.92 300.28 L362.97 300.17 L364.02 300.04 L365.07 299.92 L366.12 299.79 L367.16 299.65 L368.21 299.51 L369.26 299.36 L370.31 299.19 L371.36 299 L372.4 298.79 L373.45 298.55 L374.5 298.3 L375.55 298.03 L376.6 297.76 L377.64 297.48 L378.69 297.21 L379.74 296.95 L380.79 296.71 L381.84 296.48 L382.88 296.28 L383.93 296.11 L384.98 295.97 L386.03 295.84 L387.08 295.72 L388.12 295.6 L389.17 295.5 L390.22 295.42 L391.27 295.36 L392.32 295.31 L393.36 295.27 L394.41 295.23 L395.46 295.2 L396.51 295.17 L397.56 295.14 L398.6 295.13 L399.65 295.12 L400.7 295.12 L401.75 295.13 L402.8 295.16 L403.84 295.19 L404.89 295.24 L405.94 295.29 L406.99 295.35 L408.04 295.42 L409.08 295.48 L410.13 295.54 L411.18 295.61 L412.23 295.66 L413.28 295.71 L414.32 295.76 L415.37 295.79 L416.42 295.81 L417.47 295.82 L418.52 295.79 L419.56 295.71 L420.61 295.6 L421.66 295.47 L422.71 295.17 L423.76 294.63 L424.8 293.96 L425.85 293.3 L426.9 292.75 L427.95 292.44 L429 292.41 L430.04 292.41 L431.09 292.41 L432.14 292.41 L433.19 292.41 L434.24 292.41 L435.28 292.41 L436.33 292.41 L437.38 292.41 L438.43 292.41 L439.48 292.41 L440.52 292.41 L441.57 292.41 L442.62 292.41 L443.67 292.41 L444.72 292.41 L445.76 292.41 L446.81 292.41 L447.86 292.41 L448.91 292.41 L449.96 292.41 L451 292.41 L452.05 292.41 L453.1 292.41 L454.15 292.41 L455.2 292.41 L456.24 292.41 L457.29 292.41 L458.34 292.41 L459.39 292.41 L460.44 292.41 L461.48 292.41 L462.53 292.41 L463.58 292.41 L464.63 292.41 L465.68 292.41 L466.72 292.41 L467.77 292.41 L468.82 292.42 L469.87 292.42 L470.92 292.42 L471.96 292.42 L473.01 292.42 L474.06 292.42 L475.11 292.42 L476.16 292.43 L477.2 292.43 L478.25 292.43 L479.3 292.43 L480.35 292.44 L481.4 292.44 L482.44 292.44 L483.49 292.45 L484.54 292.45 L485.59 292.45 L486.64 292.46 L487.68 292.46 L488.73 292.46 L489.78 292.47 L490.83 292.47 L491.88 292.47 L492.92 292.48 L493.97 292.48 L495.02 292.49 L496.07 292.49 L497.12 292.49 L498.16 292.5 L499.21 292.5 L500.26 292.51 L501.31 292.51 L502.36 292.52 L503.4 292.52 L504.45 292.53 L505.5 292.53" fill="none" stroke="#000" stroke-width="1.55" stroke-dasharray="4.2 2.1" stroke-linejoin="round"/>
<path d="M295.9 340 L296.95 338.05 L298 336.9 L299.04 336.04 L300.09 335.33 L301.14 334.7 L302.19 334.23 L303.24 333.82 L304.28 333.37 L305.33 332.75 L306.38 331.66 L307.43 329.94 L308.48 328.12 L309.52 326.73 L310.57 325.61 L311.62 324.58 L312.67 323.68 L313.72 322.95 L314.76 322.42 L315.81 321.99 L316.86 321.64 L317.91 321.36 L318.96 321.17 L320 321.04 L321.05 320.9 L322.1 320.66 L323.15 320 L324.2 318.99 L325.24 317.94 L326.29 317.11 L327.34 316.76 L328.39 316.6 L329.44 316.49 L330.48 316.4 L331.53 316.3 L332.58 316.15 L333.63 315.91 L334.68 315.42 L335.72 314.84 L336.77 314.29 L337.82 313.66 L338.87 313.04 L339.92 312.53 L340.96 312.23 L342.01 312.03 L343.06 311.86 L344.11 311.71 L345.16 311.59 L346.2 311.48 L347.25 311.38 L348.3 311.29 L349.35 311.19 L350.4 311.1 L351.44 311.01 L352.49 310.93 L353.54 310.85 L354.59 310.77 L355.64 310.7 L356.68 310.63 L357.73 310.56 L358.78 310.5 L359.83 310.44 L360.88 310.39 L361.92 310.34 L362.97 310.3 L364.02 310.26 L365.07 310.22 L366.12 310.18 L367.16 310.15 L368.21 310.11 L369.26 310.07 L370.31 310.03 L371.36 309.98 L372.4 309.93 L373.45 309.88 L374.5 309.83 L375.55 309.78 L376.6 309.72 L377.64 309.67 L378.69 309.62 L379.74 309.57 L380.79 309.53 L381.84 309.49 L382.88 309.46 L383.93 309.43 L384.98 309.4 L386.03 309.38 L387.08 309.36 L388.12 309.34 L389.17 309.32 L390.22 309.3 L391.27 309.28 L392.32 309.27 L393.36 309.25 L394.41 309.23 L395.46 309.21 L396.51 309.19 L397.56 309.16 L398.6 309.14 L399.65 309.1 L400.7 309.06 L401.75 309.01 L402.8 308.94 L403.84 308.87 L404.89 308.79 L405.94 308.71 L406.99 308.64 L408.04 308.58 L409.08 308.53 L410.13 308.51 L411.18 308.48 L412.23 308.46 L413.28 308.45 L414.32 308.43 L415.37 308.41 L416.42 308.4 L417.47 308.39 L418.52 308.37 L419.56 308.36 L420.61 308.35 L421.66 308.34 L422.71 308.33 L423.76 308.33 L424.8 308.32 L425.85 308.31 L426.9 308.3 L427.95 308.29 L429 308.28 L430.04 308.28 L431.09 308.27 L432.14 308.26 L433.19 308.25 L434.24 308.24 L435.28 308.23 L436.33 308.22 L437.38 308.2 L438.43 308.19 L439.48 308.17 L440.52 308.16 L441.57 308.14 L442.62 308.12 L443.67 308.11 L444.72 308.09 L445.76 308.08 L446.81 308.06 L447.86 308.04 L448.91 308.03 L449.96 308.01 L451 307.99 L452.05 307.97 L453.1 307.95 L454.15 307.93 L455.2 307.9 L456.24 307.88 L457.29 307.85 L458.34 307.82 L459.39 307.79 L460.44 307.76 L461.48 307.72 L462.53 307.68 L463.58 307.64 L464.63 307.6 L465.68 307.55 L466.72 307.5 L467.77 307.45 L468.82 307.4 L469.87 307.33 L470.92 307.2 L471.96 306.96 L473.01 306.7 L474.06 306.48 L475.11 306.39 L476.16 306.34 L477.2 306.3 L478.25 306.26 L479.3 306.22 L480.35 306.19 L481.4 306.15 L482.44 306.12 L483.49 306.09 L484.54 306.06 L485.59 306.03 L486.64 306.01 L487.68 305.99 L488.73 305.96 L489.78 305.94 L490.83 305.92 L491.88 305.91 L492.92 305.89 L493.97 305.88 L495.02 305.86 L496.07 305.85 L497.12 305.84 L498.16 305.83 L499.21 305.83 L500.26 305.82 L501.31 305.82 L502.36 305.81 L503.4 305.81 L504.45 305.81 L505.5 305.81" fill="none" stroke="#000" stroke-width="1.4" stroke-linejoin="round"/>
<path d="M303.8 239 H503.5" stroke="#000" stroke-width="1.5"/>
<path d="M303.8 247.4 H503.5 M303.8 256.6 H503.5" stroke="#000" stroke-width="1.0"/>
<path d="M340.4 228.7 V263.5 M375.3 228.7 V263.5 M411.2 228.7 V263.5 M446.7 228.7 V263.5 M482.5 228.7 V263.5" stroke="#000" stroke-width="0.95"/>
<path d="M349.15 227.7 h17.4" stroke="#000" stroke-width="1.5"/>
<path d="M384.55 227.7 h17.4" stroke="#000" stroke-width="1.6500000000000001" stroke-dasharray="4.7 2.0"/>
<path d="M420.25 227.7 h17.4" stroke="#999" stroke-width="1.5" stroke-dasharray="4.7 2.0"/>
<path d="M455.9 227.7 h17.4" stroke="#000" stroke-width="1.7000000000000002" stroke-dasharray="1.4 1.35"/>
<text x="305.2" y="236" class="tb">Prob (95% CI)</text>
<text x="357.85" y="236" class="tb" text-anchor="middle">+/+ (n = 326)</text>
<text x="393.25" y="236" class="tb" text-anchor="middle">+/− (n = 129)</text>
<text x="428.95" y="236" class="tb" text-anchor="middle">−/+ (n = 324)</text>
<text x="464.6" y="236" class="tb" text-anchor="middle">−/− (n = 378)</text>
<text x="493" y="236" class="tb" text-anchor="middle"><tspan font-style="italic">P</tspan>-value</text>
<text x="305.2" y="244.7" class="tb"><tspan font-weight="bold">@</tspan> 6 months</text>
<text x="357.85" y="244.7" class="tb" text-anchor="middle">16 (12–20)%</text>
<text x="393.25" y="244.7" class="tb" text-anchor="middle">26 (18–34)%</text>
<text x="428.95" y="244.7" class="tb" text-anchor="middle">19 (15–23)%</text>
<text x="464.6" y="244.7" class="tb" text-anchor="middle">21 (17–25)%</text>
<text x="493" y="244.7" class="tb" text-anchor="middle">.09</text>
<text x="305.2" y="253.3" class="tb"><tspan font-weight="bold">@</tspan> 1 year</text>
<text x="357.85" y="253.3" class="tb" text-anchor="middle">22 (17–26)%</text>
<text x="393.25" y="253.3" class="tb" text-anchor="middle">32 (24–40)%</text>
<text x="428.95" y="253.3" class="tb" text-anchor="middle">28 (23–33)%</text>
<text x="464.6" y="253.3" class="tb" text-anchor="middle">27 (22–31)%</text>
<text x="493" y="253.3" class="tb" text-anchor="middle">.09</text>
<text x="305.2" y="262.6" class="tb"><tspan font-weight="bold">@</tspan> 3 year</text>
<text x="357.85" y="262.6" class="tb" text-anchor="middle">26 (22–31)%</text>
<text x="393.25" y="262.6" class="tb" text-anchor="middle">38 (29–46)%</text>
<text x="428.95" y="262.6" class="tb" text-anchor="middle">34 (29–39)%</text>
<text x="464.6" y="262.6" class="tb" text-anchor="middle">30 (26–35)%</text>
<text x="493" y="262.6" class="tb" text-anchor="middle">.06</text>
<path d="M0 0 H520 V375 H0 Z M1.2 1.1 V373.9 H518.8 V1.1 Z" fill="#000" fill-rule="evenodd"/>
</g>
</svg>
</body></html>
